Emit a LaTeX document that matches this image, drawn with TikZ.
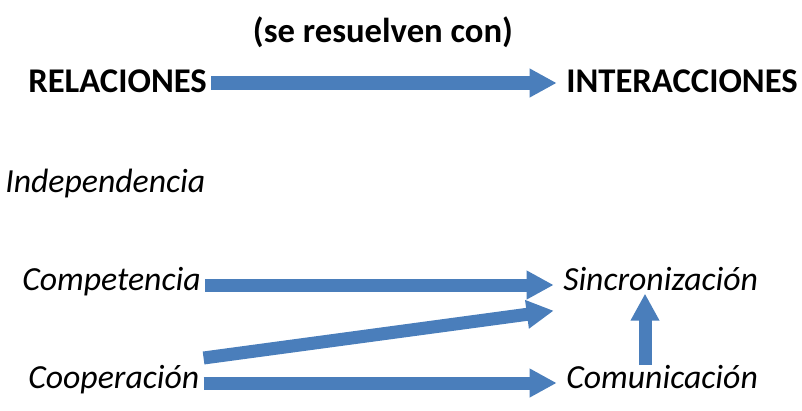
\documentclass[tikz,border=0pt]{standalone}
\usepackage{fontspec}
\setmainfont{Carlito}
\usetikzlibrary{arrows.meta}
\definecolor{arrowblue}{RGB}{74,126,187}
\tikzset{
  caps/.style={anchor=base west, font=\fontsize{26}{30}\selectfont\bfseries,
    text height=15pt, text depth=0pt, inner xsep=3pt, inner ysep=0pt},
  term/.style={anchor=base west, font=\fontsize{25.3}{30}\selectfont\itshape,
    text height=15pt, text depth=7.5pt, inner xsep=3pt, inner ysep=0pt},
  blockarrow/.style={arrowblue, line width=9.75pt, shorten >=4pt,
    -{Triangle[length=20.25pt, width=20.25pt]}}
}
\begin{document}
\begin{tikzpicture}[x=0.75pt, y=-0.75pt]
    \useasboundingbox (0,0) rectangle (802,410);

    % Header
    \node[caps, anchor=base] (hint) at (383,43) {(se resuelven con)};
    \node[caps] (rel) at (24,93) {RELACIONES};
    \node[caps] (inter) at (562,93) {INTERACCIONES};
    \draw[blockarrow] (rel.east) -- (inter.west);

    % Relations
    \node[term] (indep) at (1,192) {Independencia};
    \node[term] (comp) at (18,290) {Competencia};
    \node[term] (coop) at (24,388) {Cooperación};

    % Interactions
    \node[term] (sinc) at (559,290) {Sincronización};
    \node[term] (comu) at (562,388) {Comunicación};

    % Arrows
    \draw[blockarrow] (comp.east) -- (sinc.west);
    \draw[blockarrow] ([yshift=18.75pt]coop.east) -- ([yshift=-18.75pt]sinc.west);
    \draw[blockarrow] (coop.east) -- (comu.west);
    \draw[blockarrow, shorten >=0pt]
      ([xshift=62.25pt, yshift=2pt]comu.north west)
      --
      ([xshift=62.25pt, yshift=5pt]comu.north west |- sinc.south);
  \end{tikzpicture}
\end{document}
